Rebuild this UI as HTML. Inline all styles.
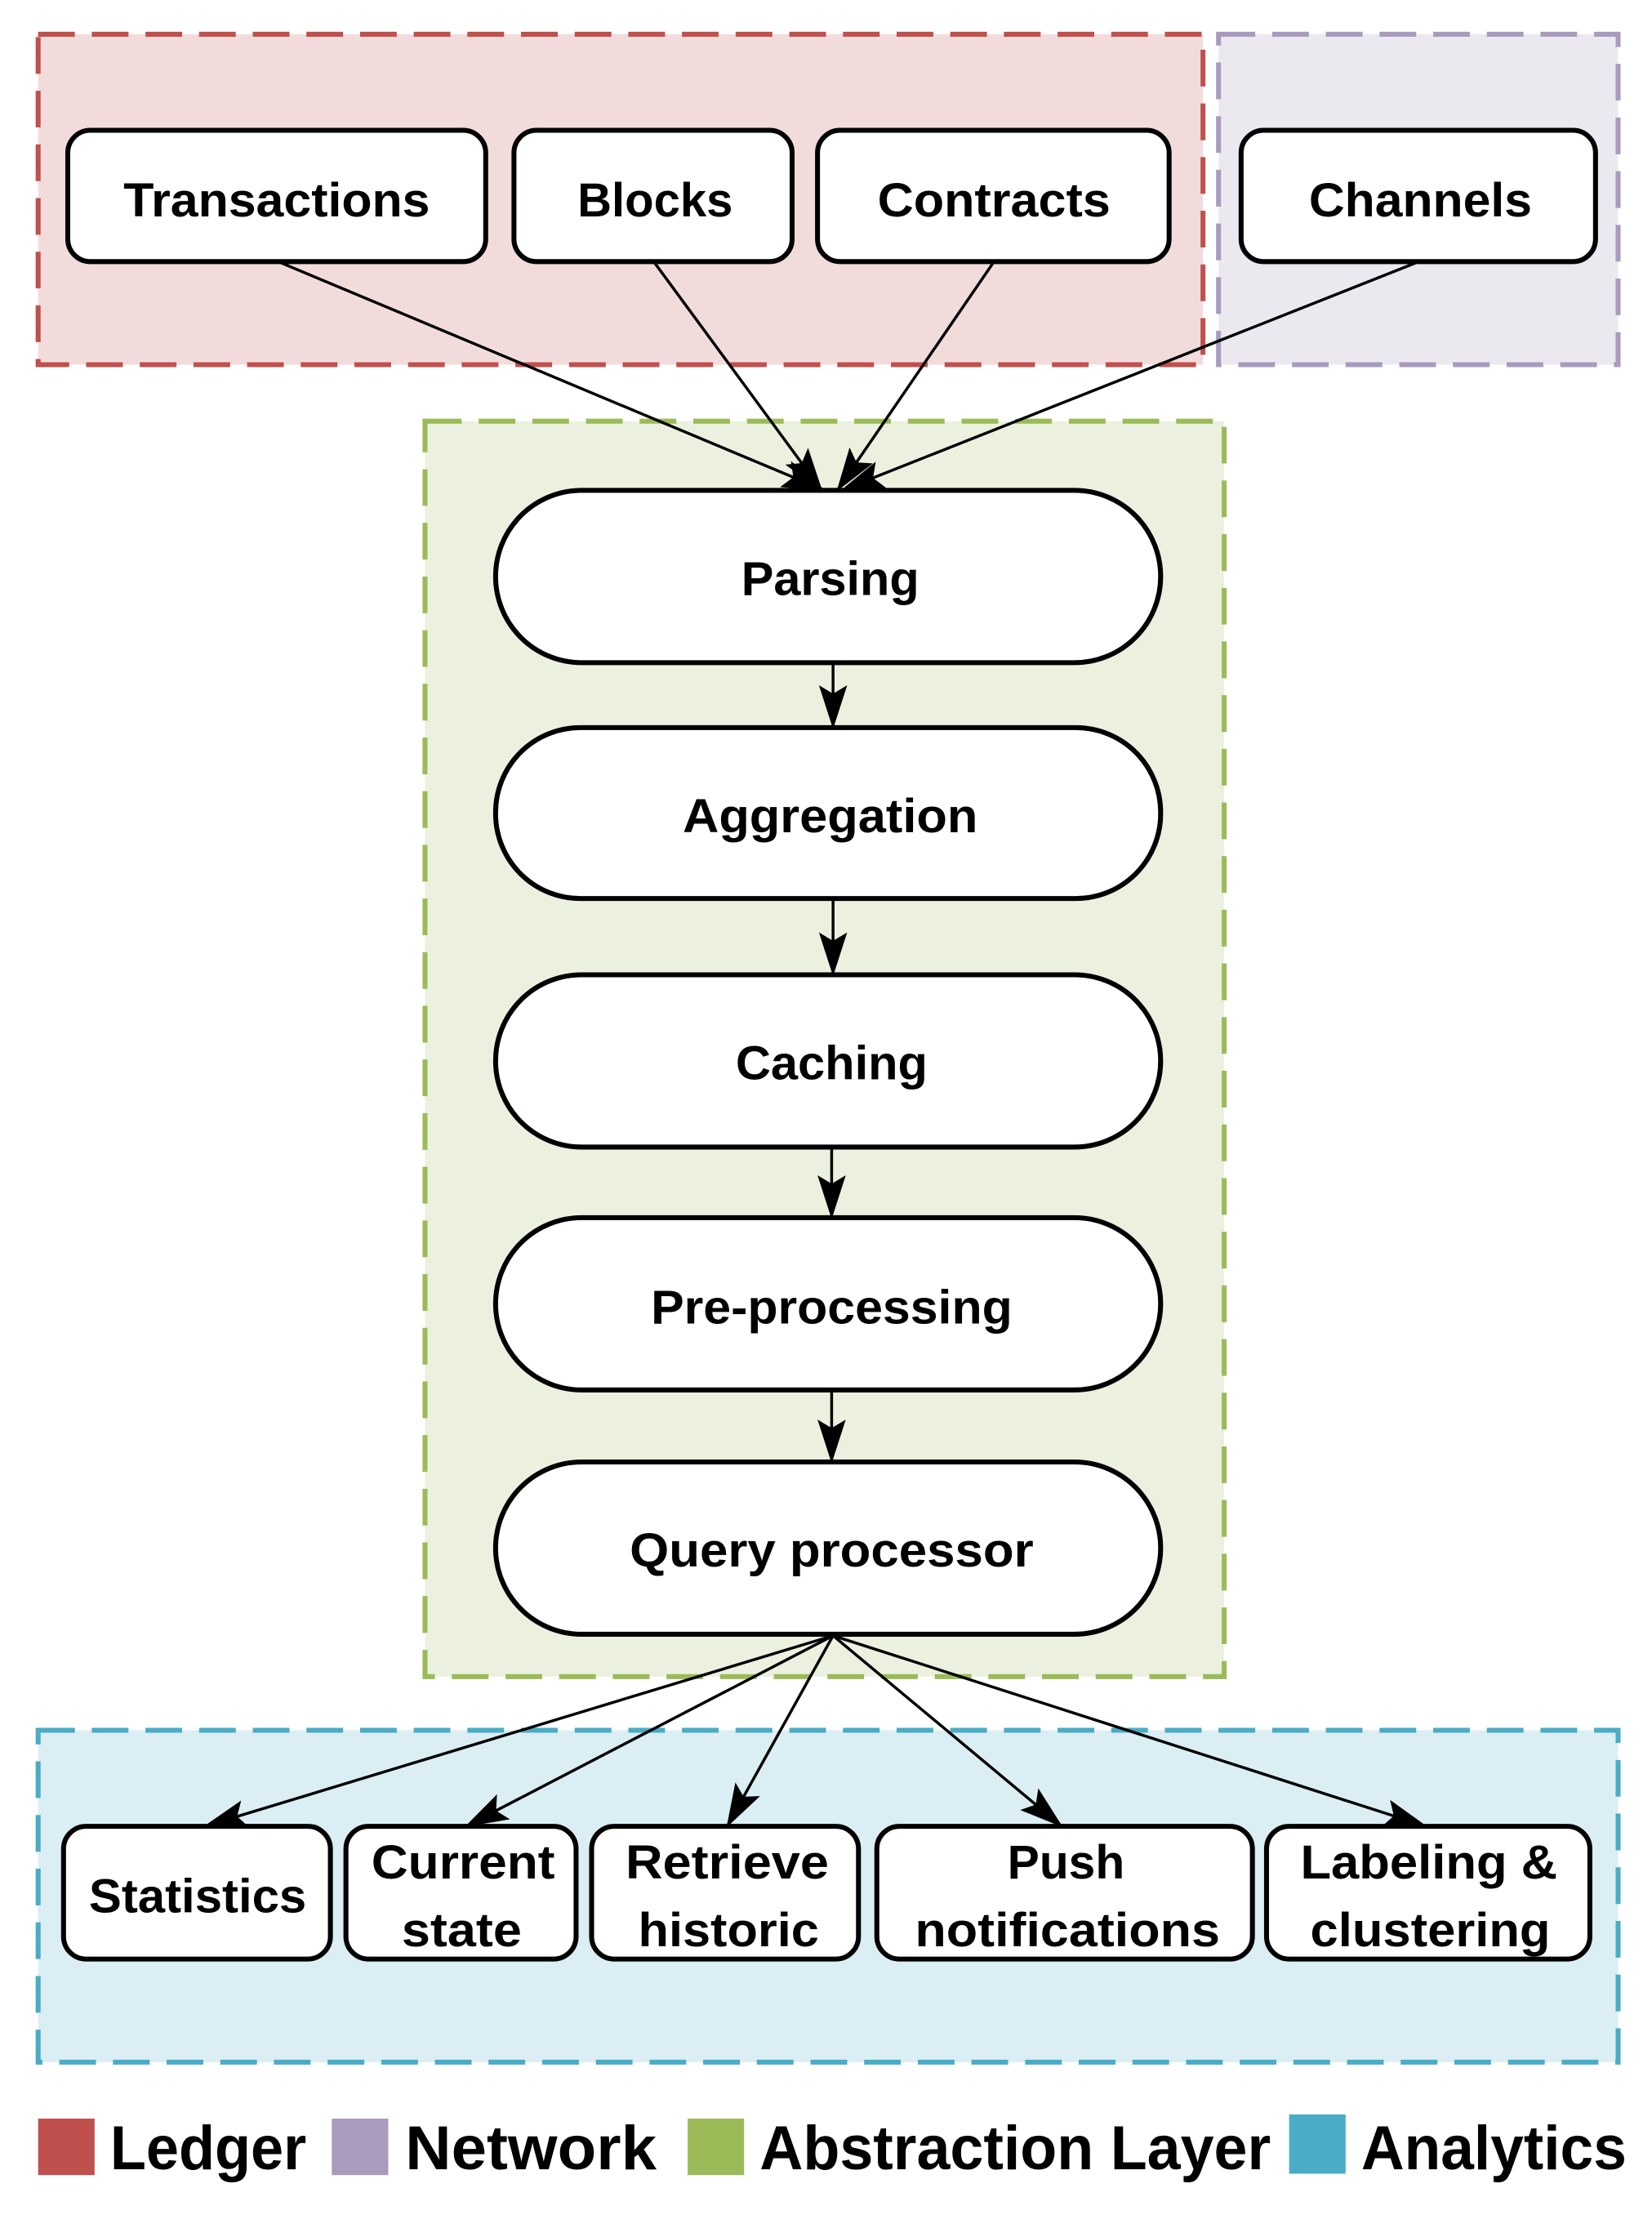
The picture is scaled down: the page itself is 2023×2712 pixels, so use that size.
<!DOCTYPE html>
<html><head><meta charset="utf-8"><style>
html,body{margin:0;padding:0;background:#fff;}
svg{display:block;}
text{font-family:"Liberation Sans",sans-serif;font-weight:bold;fill:#000;}
</style></head><body>
<svg width="2023" height="2712" viewBox="0 0 1170 1568" xmlns="http://www.w3.org/2000/svg">
<defs>
<marker id="a" markerWidth="32" markerHeight="22" refX="30" refY="10" orient="auto" markerUnits="userSpaceOnUse">
<path d="M0,0 L31,10 L0,20 L6,10 Z" fill="#000"/>
</marker>
</defs>
<rect x="27" y="24" width="825" height="234" fill="#f2dcdb" stroke="#c0504d" stroke-width="3.5" stroke-dasharray="26,12"/>
<rect x="863" y="24" width="283" height="234" fill="#ebe8f0" stroke="#a99bbd" stroke-width="3.5" stroke-dasharray="26,12"/>
<rect x="301" y="298" width="566" height="889" fill="#ebf1de" stroke="#9bbb59" stroke-width="3.5" stroke-dasharray="26,12"/>
<rect x="27" y="1225" width="1119" height="235" fill="#dbeef3" stroke="#4bacc6" stroke-width="3.5" stroke-dasharray="26,12"/>
<g fill="#fff" stroke="#000" stroke-width="3.5">
<rect x="48" y="92" width="296" height="93" rx="16"/>
<rect x="364" y="92" width="197" height="93" rx="16"/>
<rect x="579" y="92" width="249" height="93" rx="16"/>
<rect x="879" y="92" width="251" height="93" rx="16"/>
</g>
<g font-size="34" text-anchor="middle">
<text x="196" y="153" textLength="217" lengthAdjust="spacingAndGlyphs">Transactions</text>
<text x="464" y="153" textLength="110" lengthAdjust="spacingAndGlyphs">Blocks</text>
<text x="704" y="153" textLength="165" lengthAdjust="spacingAndGlyphs">Contracts</text>
<text x="1006" y="153" textLength="158" lengthAdjust="spacingAndGlyphs">Channels</text>
</g>
<g stroke="#000" stroke-width="2" marker-end="url(#a)">
<line x1="197" y1="185" x2="584" y2="347"/>
<line x1="463" y1="185" x2="582" y2="347"/>
<line x1="704" y1="185" x2="593" y2="347"/>
<line x1="1005" y1="185" x2="596" y2="347"/>
</g>
<g fill="#fff" stroke="#000" stroke-width="3.5">
<rect x="351" y="347" width="471" height="122" rx="61"/>
<rect x="351" y="515" width="471" height="121" rx="60"/>
<rect x="351" y="690" width="471" height="122" rx="61"/>
<rect x="351" y="862" width="471" height="122" rx="61"/>
<rect x="351" y="1035" width="471" height="122" rx="61"/>
</g>
<g font-size="34" text-anchor="middle">
<text x="588" y="421" textLength="126" lengthAdjust="spacingAndGlyphs">Parsing</text>
<text x="588" y="589" textLength="209" lengthAdjust="spacingAndGlyphs">Aggregation</text>
<text x="589" y="764" textLength="136" lengthAdjust="spacingAndGlyphs">Caching</text>
<text x="589" y="937" textLength="256" lengthAdjust="spacingAndGlyphs">Pre-processing</text>
<text x="589" y="1109" textLength="286" lengthAdjust="spacingAndGlyphs">Query processor</text>
</g>
<g stroke="#000" stroke-width="2" marker-end="url(#a)">
<line x1="590" y1="469" x2="590" y2="515"/>
<line x1="590" y1="636" x2="590" y2="690"/>
<line x1="589" y1="812" x2="589" y2="862"/>
<line x1="589" y1="984" x2="589" y2="1035"/>
</g>
<g stroke="#000" stroke-width="2" marker-end="url(#a)">
<line x1="590" y1="1158" x2="145" y2="1293"/>
<line x1="590" y1="1158" x2="330" y2="1293"/>
<line x1="590" y1="1158" x2="515" y2="1293"/>
<line x1="590" y1="1158" x2="752" y2="1293"/>
<line x1="590" y1="1158" x2="1010" y2="1293"/>
</g>
<g fill="#fff" stroke="#000" stroke-width="3.5">
<rect x="45" y="1293" width="189" height="94" rx="16"/>
<rect x="245" y="1293" width="163" height="94" rx="16"/>
<rect x="419" y="1293" width="189" height="94" rx="16"/>
<rect x="621" y="1293" width="266" height="94" rx="16"/>
<rect x="897" y="1293" width="229" height="94" rx="16"/>
</g>
<g font-size="34" text-anchor="middle">
<text x="140" y="1354" textLength="154" lengthAdjust="spacingAndGlyphs">Statistics</text>
<text x="328" y="1330" textLength="130" lengthAdjust="spacingAndGlyphs">Current</text>
<text x="327" y="1378" textLength="85" lengthAdjust="spacingAndGlyphs">state</text>
<text x="515" y="1330" textLength="144" lengthAdjust="spacingAndGlyphs">Retrieve</text>
<text x="516" y="1378" textLength="128" lengthAdjust="spacingAndGlyphs">historic</text>
<text x="755" y="1330" textLength="83" lengthAdjust="spacingAndGlyphs">Push</text>
<text x="756" y="1378" textLength="216" lengthAdjust="spacingAndGlyphs">notifications</text>
<text x="1012" y="1330" textLength="182" lengthAdjust="spacingAndGlyphs">Labeling &amp;</text>
<text x="1013" y="1378" textLength="170" lengthAdjust="spacingAndGlyphs">clustering</text>
</g>
<rect x="27" y="1500" width="40" height="40" fill="#c0504d"/>
<rect x="235" y="1500" width="40" height="40" fill="#a99bbd"/>
<rect x="487" y="1500" width="40" height="40" fill="#9bbb59"/>
<rect x="913" y="1497" width="40" height="42" fill="#4bacc6"/>
<g font-size="44">
<text x="78" y="1536" textLength="139" lengthAdjust="spacingAndGlyphs">Ledger</text>
<text x="287" y="1536" textLength="178" lengthAdjust="spacingAndGlyphs">Network</text>
<text x="538" y="1536" textLength="362" lengthAdjust="spacingAndGlyphs">Abstraction Layer</text>
<text x="964" y="1536" textLength="188" lengthAdjust="spacingAndGlyphs">Analytics</text>
</g>
</svg>
</body></html>
